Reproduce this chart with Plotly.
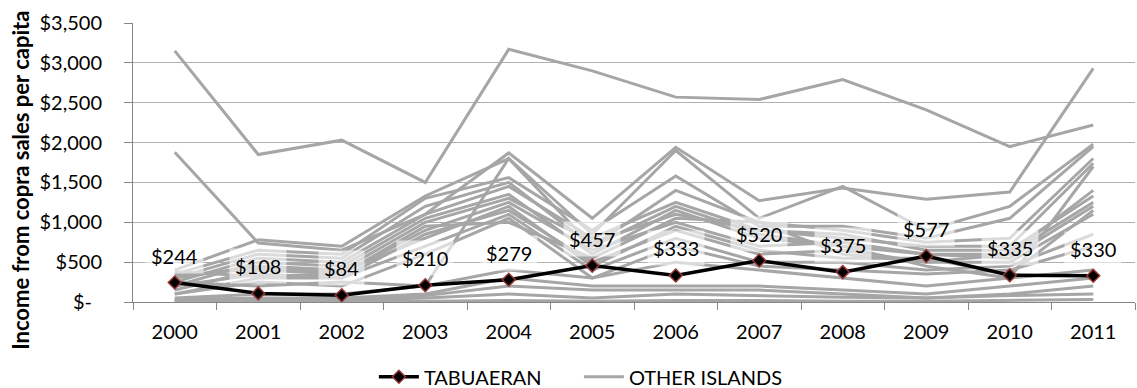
import plotly.graph_objects as go

years = ["2000", "2001", "2002", "2003", "2004", "2005",
         "2006", "2007", "2008", "2009", "2010", "2011"]

tabuaeran = [244, 108, 84, 210, 279, 457, 333, 520, 375, 577, 335, 330]

# per-capita copra income for each of the other islands
other_islands = [
    [3150, 1850, 2030, 1500, 3170, 2900, 2570, 2540, 2790, 2410, 1950, 2220],
    [1880, 740, 650, 1100, 1870, 1050, 1940, 1270, 1430, 1290, 1380, 2930],
    [400, 780, 700, 1330, 1800, 850, 1900, 1050, 1450, 900, 1200, 1980],
    [350, 650, 600, 1300, 1560, 900, 1580, 950, 950, 800, 1050, 1950],
    [300, 600, 550, 1200, 1500, 700, 1400, 1000, 900, 750, 800, 1800],
    [250, 550, 500, 1100, 1450, 800, 1250, 900, 800, 700, 700, 1740],
    [200, 500, 450, 1050, 1350, 600, 1150, 800, 700, 600, 600, 1400],
    [300, 450, 400, 1000, 1300, 750, 1100, 900, 850, 650, 650, 1330],
    [150, 400, 350, 900, 1250, 650, 1000, 700, 750, 600, 550, 1200],
    [200, 350, 300, 850, 1150, 500, 900, 600, 650, 500, 500, 1100],
    [100, 300, 300, 700, 1100, 400, 800, 500, 500, 400, 450, 850],
    [100, 250, 200, 600, 1050, 300, 700, 450, 400, 350, 400, 700],
    [380, 320, 350, 950, 1000, 550, 1050, 1000, 600, 500, 600, 1250],
    [250, 200, 250, 200, 1800, 700, 1200, 850, 700, 450, 300, 1700],
    [330, 420, 380, 800, 1200, 450, 950, 650, 550, 550, 350, 1150],
    [50, 100, 100, 200, 400, 300, 500, 400, 300, 200, 300, 400],
    [30, 50, 50, 100, 300, 200, 200, 200, 150, 100, 200, 300],
    [20, 30, 30, 80, 200, 150, 150, 150, 100, 50, 100, 200],
    [10, 20, 20, 50, 100, 50, 100, 80, 60, 50, 80, 100],
    [0, 0, 0, 10, 20, 10, 20, 20, 10, 10, 20, 30],
]

y_tick_vals = [0, 500, 1000, 1500, 2000, 2500, 3000, 3500]
y_tick_text = ["$-\u2002", "$500", "$1,000", "$1,500", "$2,000", "$2,500", "$3,000", "$3,500"]

FONT = "Lato"
GREY = "#A6A6A6"

fig = go.Figure()

for i, series in enumerate(other_islands):
    fig.add_trace(go.Scatter(
        x=years, y=series, mode="lines",
        line=dict(color=GREY, width=3),
        name="OTHER ISLANDS", legendgroup="other",
        showlegend=(i == 0), legendrank=2,
        hoverinfo="skip",
    ))

fig.add_trace(go.Scatter(
    x=years, y=tabuaeran, mode="lines+markers",
    line=dict(color="black", width=3.5),
    marker=dict(symbol="diamond", size=10, color="black",
                line=dict(color="#953735", width=1.5)),
    name="TABUAERAN", legendrank=1,
))

# value labels above each Tabuaeran point (x given as category index)
for idx, v in enumerate(tabuaeran):
    fig.add_annotation(
        x=idx, y=v, xref="x", yref="y", text=f"${v}", showarrow=False,
        yshift=27, yanchor="middle", xanchor="center",
        font=dict(family=FONT, size=20, color="black"),
        bgcolor="rgba(255,255,255,0.6)", borderpad=5,
    )

fig.add_annotation(
    text="Income from copra sales per capita",
    xref="paper", yref="paper", x=-0.113, y=0.437,
    xanchor="center", yanchor="middle", textangle=-90, showarrow=False,
    font=dict(family=FONT, size=22, color="black", weight="bold"),
)

fig.update_layout(
    width=1137, height=388,
    margin=dict(l=133, r=2, t=23, b=86, autoexpand=False),
    paper_bgcolor="white", plot_bgcolor="white",
    font=dict(family=FONT, size=20, color="black"),
    showlegend=True,
    legend=dict(orientation="h", x=0.445, xanchor="center", y=-0.198, yanchor="top",
                font=dict(family=FONT, size=20), itemwidth=40, entrywidth=150,
                traceorder="normal"),
)

fig.update_xaxes(
    type="category", range=[-0.5, 11.5], automargin=False,
    showline=True, linecolor="#868686", linewidth=1,
    ticks="outside", tickson="boundaries", ticklen=7, tickcolor="#868686",
    showgrid=False, tickfont=dict(family=FONT, size=20),
    ticklabelstandoff=12,
)
fig.update_yaxes(
    range=[0, 3500], tickvals=y_tick_vals, ticktext=y_tick_text, automargin=False,
    showline=True, linecolor="#868686", linewidth=1,
    ticks="outside", ticklen=8, tickcolor="#868686",
    showgrid=True, gridcolor="#B0B0B0", gridwidth=1,
    zeroline=False, tickfont=dict(family=FONT, size=20),
    ticklabelstandoff=18,
)

fig.write_html("out.html")
